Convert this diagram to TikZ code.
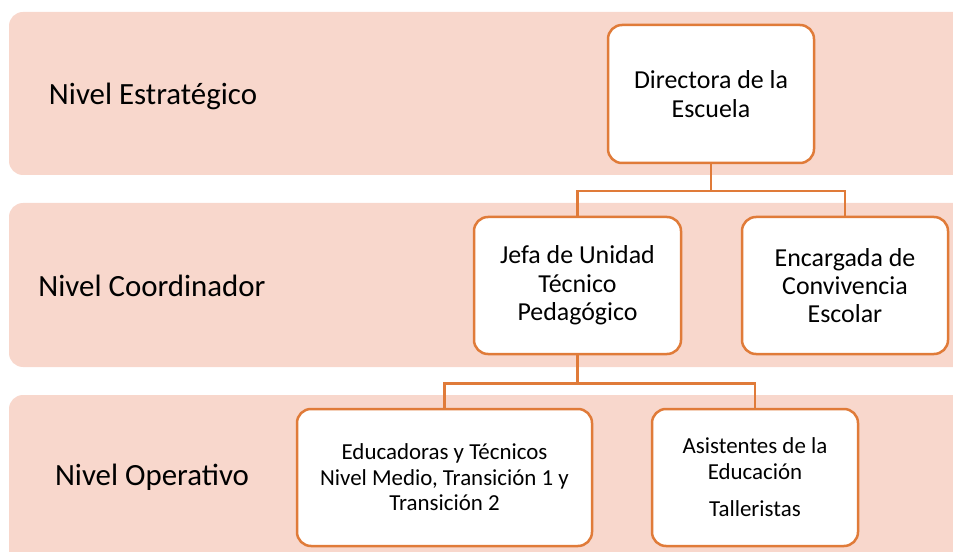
\documentclass[tikz,border=0pt]{standalone}
\usepackage{fontspec}
\setmainfont{Carlito}
\definecolor{bandfill}{HTML}{F8D7CC}
\definecolor{boxline}{HTML}{E07B39}
\tikzset{
  band/.style={fill=bandfill,rounded corners=14bp},
  level/.style={font=\fontsize{31}{36}\selectfont},
  post/.style={draw=boxline,line width=2.5bp,fill=white,rounded corners=14bp,
    align=center,font=\fontsize{26}{28.5}\selectfont,inner sep=0pt},
  small/.style={font=\fontsize{23}{25.5}\selectfont},
  link/.style={draw=boxline,line width=2.5bp},
}
\begin{document}
\begin{tikzpicture}[x=1bp,y=-1bp]
\useasboundingbox (0,0) rectangle (953,552);
\clip (0,0) rectangle (953,552);
%% bands
\fill[band] (9,12) rectangle (980,175);
\fill[band] (9,203) rectangle (980,367);
\fill[band] (9,395) rectangle (980,580);
\node (lvlE) at (153,96) [level] {Nivel Estratégico};
\node (lvlC) at (152,286) [level] {Nivel Coordinador};
\node (lvlO) at (152,477) [level] {Nivel Operativo};
%% boxes
\node (dir) at (711,94) [post,minimum width=206bp,minimum height=138bp] {Directora de la\\Escuela};
\node (utp) at (577.5,285.5) [post,minimum width=207bp,minimum height=137bp] {Jefa de Unidad\\Técnico\\Pedagógico};
\node (conv) at (845,285.5) [post,minimum width=206bp,minimum height=137bp] {Encargada de\\Convivencia\\Escolar};
\node (edu) at (444.5,477.5) [post,small,minimum width=295bp,minimum height=137bp] {Educadoras y Técnicos\\Nivel Medio, Transición 1 y\\Transición 2};
\node (asis) at (755,477.5) [post,small,minimum width=206bp,minimum height=137bp] {Asistentes de la\\Educación\\[12bp]Talleristas};
%% connectors
\draw[link] (dir.south) -- ++(0,27) -| (utp.north);
\draw[link] (dir.south) -- ++(0,27) -| (conv.north);
\draw[link] (utp.south) -- ++(0,28) -| (edu.north);
\draw[link] (utp.south) -- ++(0,28) -| (asis.north);
%
\end{tikzpicture}
\end{document}
